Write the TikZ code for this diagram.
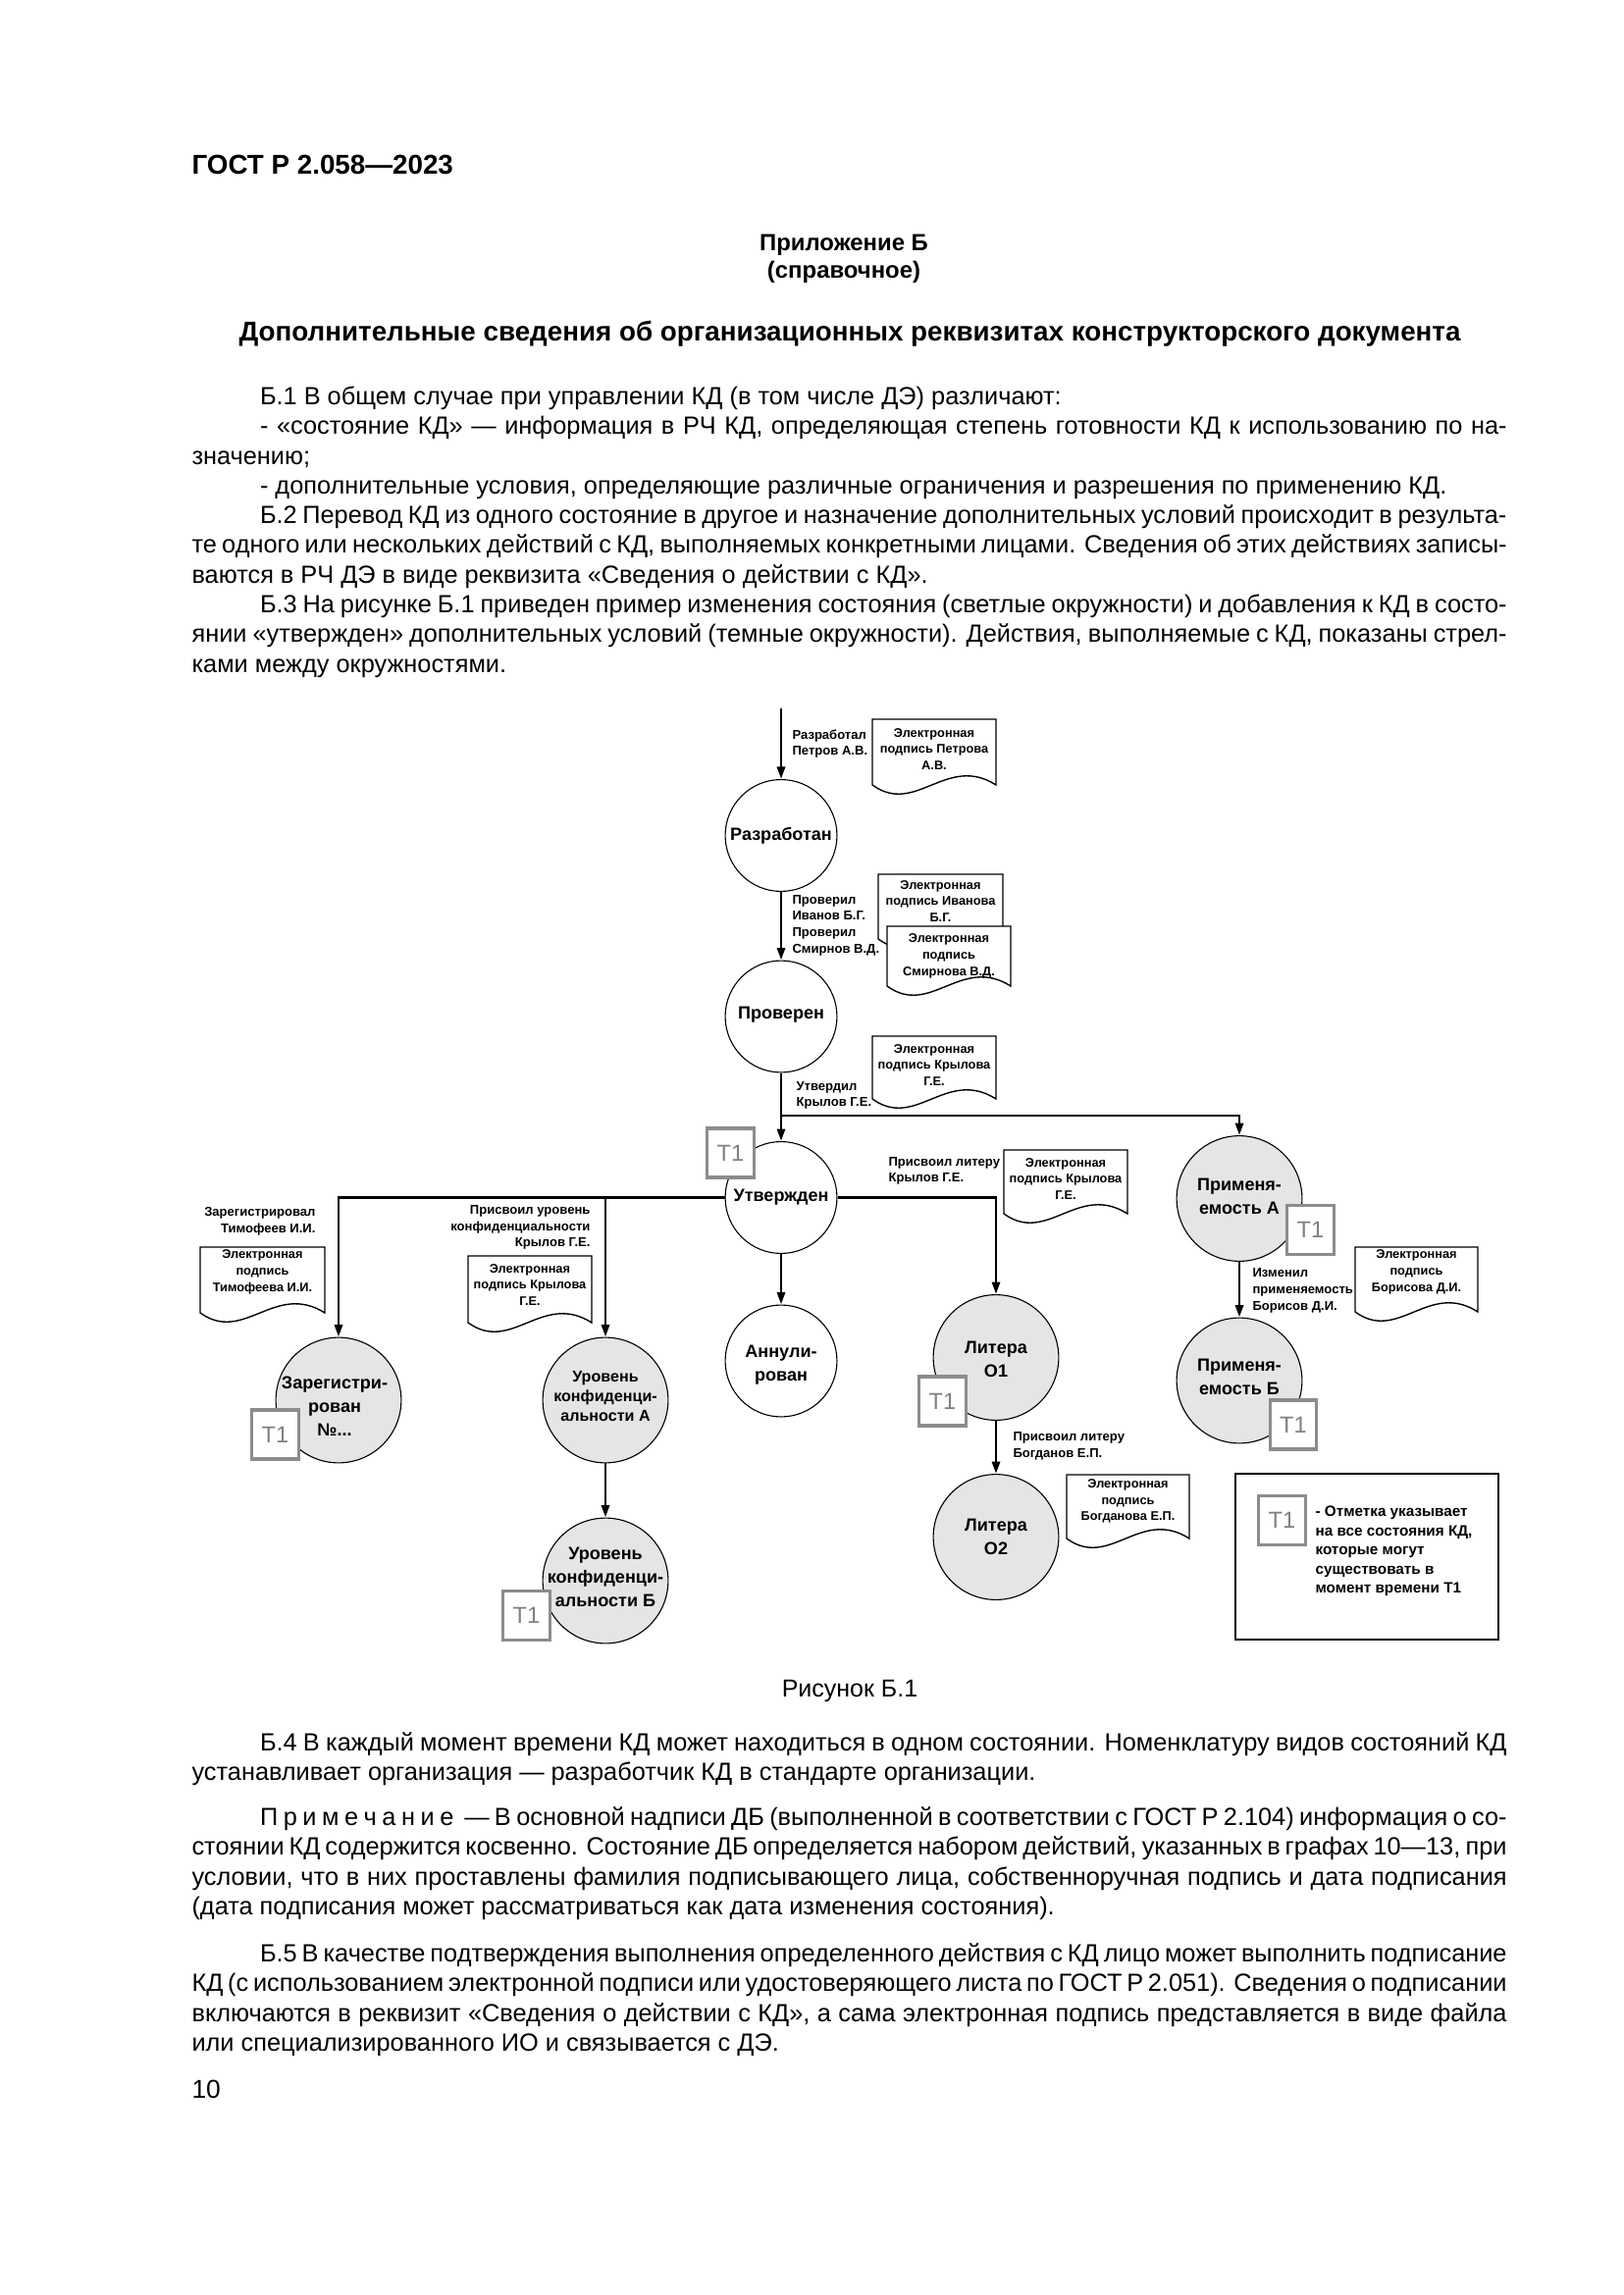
\documentclass[tikz,border=0pt]{standalone}
\usepackage{fontspec}
\setmainfont{Liberation Sans}
\usetikzlibrary{arrows.meta}
\tolerance=9999
\hbadness=10000
\newcommand\esig[7]{%
  \filldraw[sigline] (#2,#3) -- (#4,#3) -- (#4,#5)
    .. controls ({#4-0.4*(#4-#2)},{#5-32}) and ({#2+0.35*(#4-#2)},{#5+32}) .. (#2,#5) -- cycle;
  \node[sigtext] (#1) at ({(#2+#4)/2},#6) {#7};
}
\newcommand\bodysetup{\spaceskip=0.278em plus 0.6em minus 0.16em\relax}
\begin{document}
\begin{tikzpicture}[x=0.36bp,y=-0.36bp,
  conn/.style={line width=1bp, -{Triangle[length=4.5bp,width=2.9bp]}},
  wstate/.style={circle, draw, line width=0.4bp, fill=white, minimum size=41bp, inner sep=0pt},
  gstate/.style={circle, draw, line width=0.4bp, fill=gray!20, minimum size=46bp, inner sep=0pt},
  ctext/.style={align=center, inner sep=0pt, font=\fontsize{6.5bp}{8.6bp}\selectfont\bfseries},
  ctextsm/.style={align=center, inner sep=0pt, font=\fontsize{5.8bp}{7.2bp}\selectfont\bfseries},
  lbl/.style={inner sep=0pt, font=\fontsize{4.7bp}{6bp}\selectfont\bfseries},
  sigtext/.style={align=center, inner sep=0pt, font=\fontsize{4.6bp}{6bp}\selectfont\bfseries},
  sigline/.style={draw=black, line width=0.5bp, fill=white},
  tmark/.style={draw=black!45, line width=1.1bp, fill=white, text=black!50, minimum width=17bp, minimum height=18bp, inner sep=0pt, font=\fontsize{8.5bp}{10bp}\selectfont},
  legtext/.style={inner sep=0pt, align=left, font=\fontsize{5.5bp}{7bp}\selectfont\bfseries},
  body/.style={text width=482.4bp, align=justify, inner sep=0pt, anchor=north west, font=\fontsize{9.12bp}{10.9bp}\selectfont},
  head/.style={inner sep=0pt, font=\fontsize{10bp}{10.9bp}\selectfont\bfseries},
  subhead/.style={inner sep=0pt, font=\fontsize{8.6bp}{10.9bp}\selectfont\bfseries},
]
\useasboundingbox[fill=white] (0,0) rectangle (1654,2339);

% ---------- page text ----------
\node[head, anchor=base west] (gost) at (195,178) {ГОСТ Р 2.058—2023};
\node[subhead, anchor=base] (pril) at (860,256) {Приложение Б};
\node[subhead, anchor=base] (sprav) at (860,284) {(справочное)};
\node[head, anchor=base] (title) at (866,348) {Дополнительные сведения об организационных реквизитах конструкторского документа};

\node[body] (p1) at (195,390.8) {\bodysetup\strut\hspace*{25bp}Б.1 В общем случае при управлении КД (в том числе ДЭ) различают:\par
\hspace*{25bp}- «состояние КД» — информация в РЧ КД, определяющая степень готовности КД к использованию по на-\linebreak значению;\par
\hspace*{25bp}- дополнительные условия, определяющие различные ограничения и разрешения по применению КД.\par
\hspace*{25bp}Б.2 Перевод КД из одного состояние в другое и назначение дополнительных условий происходит в результа-\linebreak те одного или нескольких действий с КД, выполняемых конкретными лицами. Сведения об этих действиях записы-\linebreak ваются в РЧ ДЭ в виде реквизита «Сведения о действии с КД».\par
\hspace*{25bp}Б.3 На рисунке Б.1 приведен пример изменения состояния (светлые окружности) и добавления к КД в состо-\linebreak янии «утвержден» дополнительных условий (темные окружности). Действия, выполняемые с КД, показаны стрел-\linebreak ками между окружностями.};

\node[inner sep=0pt, anchor=base, font=\fontsize{9bp}{10.9bp}\selectfont] (cap) at (866,1729) {Рисунок Б.1};

\node[body] (p6) at (195,1762.8) {\bodysetup\strut\hspace*{25bp}Б.4 В каждый момент времени КД может находиться в одном состоянии. Номенклатуру видов состояний КД\linebreak устанавливает организация — разработчик КД в стандарте организации.};

\node[body] (p7) at (195,1838.8) {\bodysetup\strut\hspace*{25bp}П\kern2bp р\kern2bp и\kern2bp м\kern2bp е\kern2bp ч\kern2bp а\kern2bp н\kern2bp и\kern2bp е\ \ — В основной надписи ДБ (выполненной в соответствии с ГОСТ Р 2.104) информация о со-\linebreak стоянии КД содержится косвенно. Состояние ДБ определяется набором действий, указанных в графах 10—13, при\linebreak условии, что в них проставлены фамилия подписывающего лица, собственноручная подпись и дата подписания\linebreak (дата подписания может рассматриваться как дата изменения состояния).};

\node[body] (p8) at (195,1977.8) {\bodysetup\strut\hspace*{25bp}Б.5 В качестве подтверждения выполнения определенного действия с КД лицо может выполнить подписание\linebreak КД (с использованием электронной подписи или удостоверяющего листа по ГОСТ Р 2.051). Сведения о подписании\linebreak включаются в реквизит «Сведения о действии с КД», а сама электронная подпись представляется в виде файла\linebreak или специализированного ИО и связывается с ДЭ.};

\node[inner sep=0pt, anchor=base west, font=\fontsize{9.5bp}{10.9bp}\selectfont] (pnum) at (195,2138) {10};

% ---------- diagram: states ----------
\node[wstate] (razr) at (796,851.5) {};
\node[ctext] (razr-t) at (796,852) {Разработан};
\node[wstate] (prov) at (796,1036) {};
\node[ctext] (prov-t) at (796,1034) {Проверен};
\node[wstate] (utv) at (796,1220.5) {};
\node[ctext] (utv-t) at (796,1220) {Утвержден};
\node[wstate] (ann) at (796,1387) {};
\node[ctext] (ann-t) at (796,1391) {Аннули-\\рован};
\node[gstate] (lit1) at (1015,1383.5) {};
\node[ctext] (lit1-t) at (1015,1385) {Литера\\О1};
\node[gstate] (lit2) at (1015,1566.5) {};
\node[ctext] (lit2-t) at (1015,1566.5) {Литера\\О2};
\node[gstate] (primA) at (1263,1221.5) {};
\node[ctext] (primA-t) at (1263,1219) {Применя-\\емость А};
\node[gstate] (primB) at (1263,1407) {};
\node[ctext] (primB-t) at (1263,1403.5) {Применя-\\емость Б};
\node[gstate] (reg) at (345,1427) {};
\node[ctext] (reg-t) at (341,1433) {Зарегистри-\\рован\\№...};
\node[gstate] (urA) at (617,1427) {};
\node[ctextsm] (urA-t) at (617,1423) {Уровень\\конфиденци-\\альности А};
\node[gstate] (urB) at (617,1611) {};
\node[ctext] (urB-t) at (617,1607.5) {Уровень\\конфиденци-\\альности Б};

% ---------- connectors ----------
\coordinate (in) at (796,722);
\coordinate (j1) at (796,1137);
\draw[conn] (in) -- (razr);
\draw[conn] (razr) -- (prov);
\draw[conn] (prov) -- (utv);
\draw[conn] (j1) -| (primA.north);
\draw[conn] (utv.east) -| (lit1.north);
\draw[conn] (utv.west) -| (reg.north);
\draw[conn] (utv.west -| urA.north) -- (urA.north);
\draw[conn] (utv) -- (ann);
\draw[conn] (urA) -- (urB);
\draw[conn] (lit1) -- (lit2);
\draw[conn] (primA) -- (primB);

% ---------- action labels ----------
\node[lbl, anchor=west, align=left] (l1) at (807,758) {Разработал\\Петров А.В.};
\node[lbl, anchor=west, align=left] (l2) at (807,943) {Проверил\\Иванов Б.Г.\\Проверил\\Смирнов В.Д.};
\node[lbl, anchor=west, align=left] (l3) at (811,1116.5) {Утвердил\\Крылов Г.Е.};
\node[lbl, anchor=west, align=left] (l4) at (905,1193.5) {Присвоил литеру\\Крылов Г.Е.};
\node[lbl, anchor=west, align=left] (l5) at (1032,1474) {Присвоил литеру\\Богданов Е.П.};
\node[lbl, anchor=west, align=left] (l6) at (1276,1315.5) {Изменил\\применяемость\\Борисов Д.И.};
\node[lbl, anchor=east, align=right] (l7) at (322,1245) {Зарегистрировал\\Тимофеев И.И.};
\node[lbl, anchor=east, align=right] (l8) at (602,1251) {Присвоил уровень\\конфиденциальности\\Крылов Г.Е.};

% ---------- electronic signatures ----------
\esig{s1}{889}{733}{1015}{800}{763.5}{Электронная\\подпись Петрова\\А.В.}
\esig{s2}{895}{891}{1022}{957}{918.5}{Электронная\\подпись Иванова\\Б.Г.}
\esig{s3}{904}{944}{1030}{1005}{974.5}{Электронная\\подпись\\Смирнова В.Д.}
\esig{s4}{889}{1056}{1015}{1120}{1085.5}{Электронная\\подпись Крылова\\Г.Е.}
\esig{s5}{1023}{1172}{1149}{1237}{1201.5}{Электронная\\подпись Крылова\\Г.Е.}
\esig{s6}{1087}{1503}{1212}{1568}{1530}{Электронная\\подпись\\Богданова Е.П.}
\esig{s7}{1381}{1271}{1506}{1337}{1296.5}{Электронная\\подпись\\Борисова Д.И.}
\esig{s8}{204}{1271}{331}{1338}{1296.5}{Электронная\\подпись\\Тимофеева И.И.}
\esig{s9}{477}{1280}{603}{1348}{1309.5}{Электронная\\подпись Крылова\\Г.Е.}

% ---------- T1 marks ----------
\node[tmark] (t-utv) at (744.5,1175) {Т1};
\node[tmark] (t-reg) at (280.5,1462) {Т1};
\node[tmark] (t-urB) at (536.5,1646.5) {Т1};
\node[tmark] (t-lit1) at (960.5,1428) {Т1};
\node[tmark] (t-primA) at (1335.5,1253.5) {Т1};
\node[tmark] (t-primB) at (1318,1452) {Т1};

% ---------- legend ----------
\node[draw, line width=0.6bp, minimum width=96.5bp, minimum height=60.8bp, inner sep=0pt] (legend) at (1393,1586.5) {};
\node[tmark] (t-leg) at (1306.5,1549.5) {Т1};
\node[legtext, anchor=west] (leg-t) at (1340,1581) {- Отметка указывает\\на все состояния КД,\\которые могут\\существовать в\\момент времени Т1};
\end{tikzpicture}
\end{document}
